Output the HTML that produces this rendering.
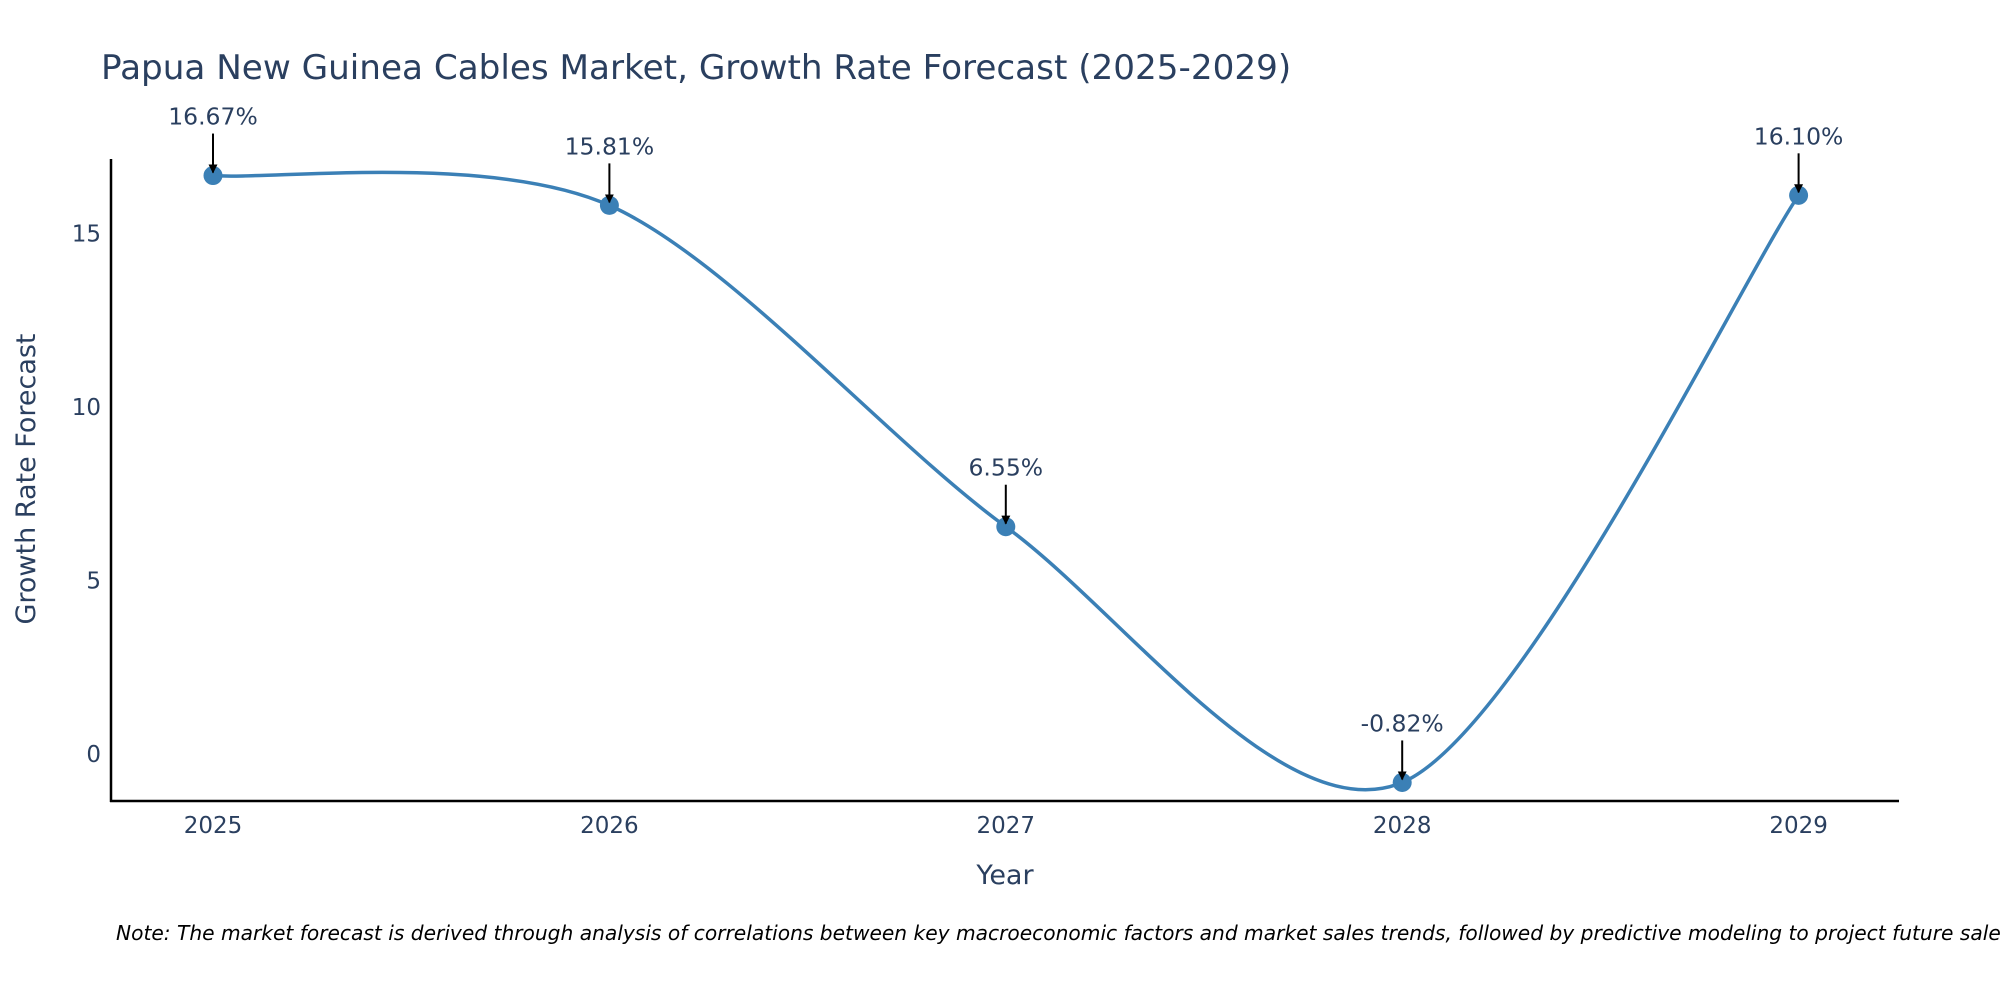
<!DOCTYPE html>
<html>
<head>
<meta charset="utf-8">
<style>
  html,body{margin:0;padding:0;background:#fff;}
  body{width:2000px;height:1000px;overflow:hidden;font-family:"DejaVu Sans",sans-serif;}
  svg text{font-family:"DejaVu Sans",sans-serif;fill:#2a3f5f;}
</style>
</head>
<body>
<svg id="chart" width="2000" height="1000" xmlns="http://www.w3.org/2000/svg">
  <text x="101" y="79" font-size="34.2">Papua New Guinea Cables Market, Growth Rate Forecast (2025-2029)</text>
  <line x1="111" y1="159" x2="111" y2="802" stroke="#000" stroke-width="2.5"/>
  <line x1="110" y1="801" x2="1899" y2="801" stroke="#000" stroke-width="2.5"/>
  <text x="1005" y="884" font-size="27" text-anchor="middle">Year</text>
  <text x="0" y="0" font-size="27" text-anchor="middle" transform="translate(35,479) rotate(-90)">Growth Rate Forecast</text>
  <text x="116" y="940" font-size="20.2" font-style="italic" style="fill:#000">Note: The market forecast is derived through analysis of correlations between key macroeconomic factors and market sales trends, followed by predictive modeling to project future sales.</text>
  <defs>
    <marker id="arrow" viewBox="0 0 10 10" refX="9" refY="5" markerWidth="4.5" markerHeight="4.5" orient="auto">
      <path d="M0,0 L10,5 L0,10 z" fill="#000"/>
    </marker>
  </defs>
  <g id="marks"></g>
</svg>
<script>
const years = ["2025","2026","2027","2028","2029"];
const growth = [16.67, 15.81, 6.55, -0.82, 16.10];
const labels = ["16.67%","15.81%","6.55%","-0.82%","16.10%"];
const yTicks = [0, 5, 10, 15];

const NS = "http://www.w3.org/2000/svg";
const g = document.getElementById("marks");
function xScale(i){ return 213 + i * 396.4; }
function yScale(v){ return 754 - v * 34.7; }
function el(tag, attrs){ const e = document.createElementNS(NS, tag); for (const k in attrs) e.setAttribute(k, attrs[k]); g.appendChild(e); return e; }

yTicks.forEach(t => {
  const e = el("text", {x: 101, y: yScale(t) + 8, "font-size": 23, "text-anchor": "end"});
  e.textContent = t;
  
  
});
years.forEach((y, i) => {
  const e = el("text", {x: xScale(i), y: 833, "font-size": 23, "text-anchor": "middle"});
  e.textContent = y;
  
  
});

const pts = growth.map((v, i) => [xScale(i), yScale(v)]);
let d = "M" + pts[0][0] + "," + pts[0][1];
const s = 0.15;
for (let i = 0; i < pts.length - 1; i++) {
  const p0 = pts[Math.max(i - 1, 0)], p1 = pts[i], p2 = pts[i + 1], p3 = pts[Math.min(i + 2, pts.length - 1)];
  const c1 = [p1[0] + (p2[0] - p0[0]) * s, p1[1] + (p2[1] - p0[1]) * s];
  const c2 = [p2[0] - (p3[0] - p1[0]) * s, p2[1] - (p3[1] - p1[1]) * s];
  d += " C" + c1.join(",") + " " + c2.join(",") + " " + p2.join(",");
}
const line = el("path", {d: d, fill: "none", stroke: "#3b80b6", "stroke-width": 3.5});



pts.forEach((p, i) => {
  const c = el("circle", {cx: p[0], cy: p[1], r: 9.5, fill: "#3b80b6"});
  
  
  const a = el("line", {x1: p[0], y1: p[1] - 42, x2: p[0], y2: p[1] - 3, stroke: "#000", "stroke-width": 2, "marker-end": "url(#arrow)"});
  
  
  const t = el("text", {x: p[0], y: p[1] - 51, "font-size": 23.5, "text-anchor": "middle"});
  t.textContent = labels[i];
  
  
});
</script>
</body>
</html>
